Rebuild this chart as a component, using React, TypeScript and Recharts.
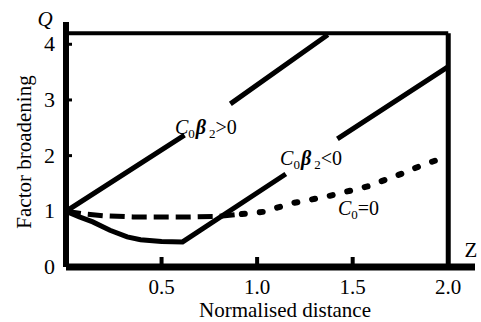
import React from 'react';
import { LineChart, Line, XAxis, YAxis, ReferenceLine, ReferenceDot, Label } from 'recharts';

const TXT: React.CSSProperties = { fontFamily: "'Liberation Serif'" };

// Tick values and labels
const xTickValues = [0.5, 1.0, 1.5, 2.0];
const xTickLabels = ['0.5', '1.0', '1.5', '2.0'];
const yTickValues = [0, 1, 2, 3, 4];
const yTickLabels = ['0', '1', '2', '3', '4'];

// C0β2>0 (gap behind its label)
const posX = [0, 0.62, 0.72, 0.86, 1.37];
const posQ: (number | null)[] = [1, 2.37, null, 2.93, 4.17];

// C0β2<0 (gap behind its label)
const negX = [0, 0.07, 0.14, 0.23, 0.32, 0.39, 0.5, 0.61, 1.15, 1.3, 1.42, 2.0];
const negQ: (number | null)[] = [1, 0.9, 0.81, 0.66, 0.54, 0.49, 0.46, 0.45, 1.67, null, 2.3, 3.6];

// C0=0, long-dash part
const zeroAX = [0, 0.1, 0.2, 0.35, 0.5, 0.65, 0.8, 0.92];
const zeroAQ = [1, 0.95, 0.92, 0.9, 0.9, 0.9, 0.91, 0.95];
// C0=0, dotted part
const zeroBX = [0.92, 1.03, 1.19, 1.37, 1.58, 1.76, 1.85, 1.98];
const zeroBQ = [0.95, 0.99, 1.15, 1.27, 1.45, 1.68, 1.81, 1.97];

// Frame
const frameTop = 4.2;
const frameRight = 2.0;

const rows = (xs: number[], qs: (number | null)[]) => xs.map((x, i) => ({ x, q: qs[i] }));

const posData = rows(posX, posQ);
const negData = rows(negX, negQ);
const zeroAData = rows(zeroAX, zeroAQ);
const zeroBData = rows(zeroBX, zeroBQ);

const XTick = (props: any) => {
  const { x, y, payload } = props;
  const idx = xTickValues.indexOf(payload.value);
  return (
    <g>
      {payload.value < frameRight && (
        <line x1={x} x2={x} y1={y} y2={y - 10} stroke="#000" strokeWidth={4} />
      )}
      <text x={x} y={y + 27} textAnchor="middle" style={TXT} fontSize={21} fill="#000">
        {xTickLabels[idx]}
      </text>
    </g>
  );
};

const YTick = (props: any) => {
  const { x, y, payload } = props;
  const idx = yTickValues.indexOf(payload.value);
  return (
    <g>
      {payload.value > 0 && <line x1={x} x2={x + 6} y1={y} y2={y} stroke="#000" strokeWidth={3} />}
      <text x={x - 11} y={y + 7} textAnchor="end" style={TXT} fontSize={22} fill="#000">
        {yTickLabels[idx]}
      </text>
    </g>
  );
};

const XTitle = (props: any) => {
  const { x, y, width } = props.viewBox;
  return (
    <g>
      <text x={x + 219} y={y + 50} textAnchor="middle" style={TXT} fontSize={21} fill="#000">
        Normalised distance
      </text>
      <text x={x + width - 4} y={y - 10} textAnchor="middle" style={TXT} fontSize={21} fill="#000">
        Z
      </text>
    </g>
  );
};

const YTitle = (props: any) => {
  const { x, y } = props.viewBox;
  return (
    <g>
      <text
        transform={`translate(${x + 11},${y + 130}) rotate(-90)`}
        textAnchor="middle"
        style={TXT}
        fontSize={21}
        fill="#000"
      >
        Factor broadening
      </text>
      <text x={x + 25} y={y + 4} textAnchor="middle" style={TXT} fontSize={21} fontStyle="italic" fill="#000">
        Q
      </text>
    </g>
  );
};

const CurveText = (sign: string, beta: boolean) => (props: any) => {
  const { x, y } = props.viewBox;
  return (
    <text x={x} y={y} style={TXT} fontSize={20} fill="#000">
      <tspan fontStyle="italic">C</tspan>
      <tspan fontSize={13} dy={4}>0</tspan>
      {beta ? (
        <>
          <tspan fontStyle="italic" fontWeight="bold" dy={-4} dx={1}>β</tspan>
          <tspan fontSize={13} dy={4} dx={3}>2</tspan>
          <tspan dy={-4}>{sign}</tspan>
        </>
      ) : (
        <tspan dy={-4}>{sign}</tspan>
      )}
    </text>
  );
};

export default function App() {
  return (
    <div style={{ position: 'absolute', left: 0, top: 0, background: '#fff' }}>
      <LineChart width={481} height={322} margin={{ top: 22, right: 6, bottom: 5, left: 20 }}>
        <XAxis
          type="number"
          dataKey="x"
          domain={[0, 2.14]}
          ticks={xTickValues}
          allowDataOverflow
          height={50}
          tickSize={0}
          tickMargin={0}
          tickLine={false}
          axisLine={{ stroke: '#000', strokeWidth: 7 }}
          tick={<XTick />}
        >
          <Label content={<XTitle />} />
        </XAxis>
        <YAxis
          type="number"
          dataKey="q"
          domain={[0, 4.4]}
          ticks={yTickValues}
          allowDataOverflow
          width={46}
          tickSize={0}
          tickMargin={0}
          tickLine={false}
          axisLine={{ stroke: '#000', strokeWidth: 6 }}
          tick={<YTick />}
        >
          <Label content={<YTitle />} />
        </YAxis>
        <ReferenceLine
          segment={[{ x: 0, y: frameTop }, { x: frameRight, y: frameTop }]}
          stroke="#000"
          strokeWidth={4}
        />
        <ReferenceLine
          segment={[{ x: frameRight, y: 0 }, { x: frameRight, y: frameTop }]}
          stroke="#000"
          strokeWidth={5}
        />
        <Line
          data={posData}
          dataKey="q"
          type="linear"
          stroke="#000"
          strokeWidth={5}
          dot={false}
          connectNulls={false}
          isAnimationActive={false}
        />
        <Line
          data={negData}
          dataKey="q"
          type="linear"
          stroke="#000"
          strokeWidth={5}
          dot={false}
          connectNulls={false}
          isAnimationActive={false}
        />
        <Line
          data={zeroAData}
          dataKey="q"
          type="linear"
          stroke="#000"
          strokeWidth={5}
          strokeDasharray="15 7"
          dot={false}
          isAnimationActive={false}
        />
        <Line
          data={zeroBData}
          dataKey="q"
          type="linear"
          stroke="#000"
          strokeWidth={6}
          strokeDasharray="3 15"
          strokeLinecap="round"
          dot={false}
          isAnimationActive={false}
        />
        <ReferenceDot x={0.57} y={2.39} r={0} fill="none" stroke="none" label={{ content: CurveText('>0', true) }} />
        <ReferenceDot x={1.12} y={1.83} r={0} fill="none" stroke="none" label={{ content: CurveText('<0', true) }} />
        <ReferenceDot x={1.423} y={0.934} r={0} fill="none" stroke="none" label={{ content: CurveText('=0', false) }} />
      </LineChart>
    </div>
  );
}
